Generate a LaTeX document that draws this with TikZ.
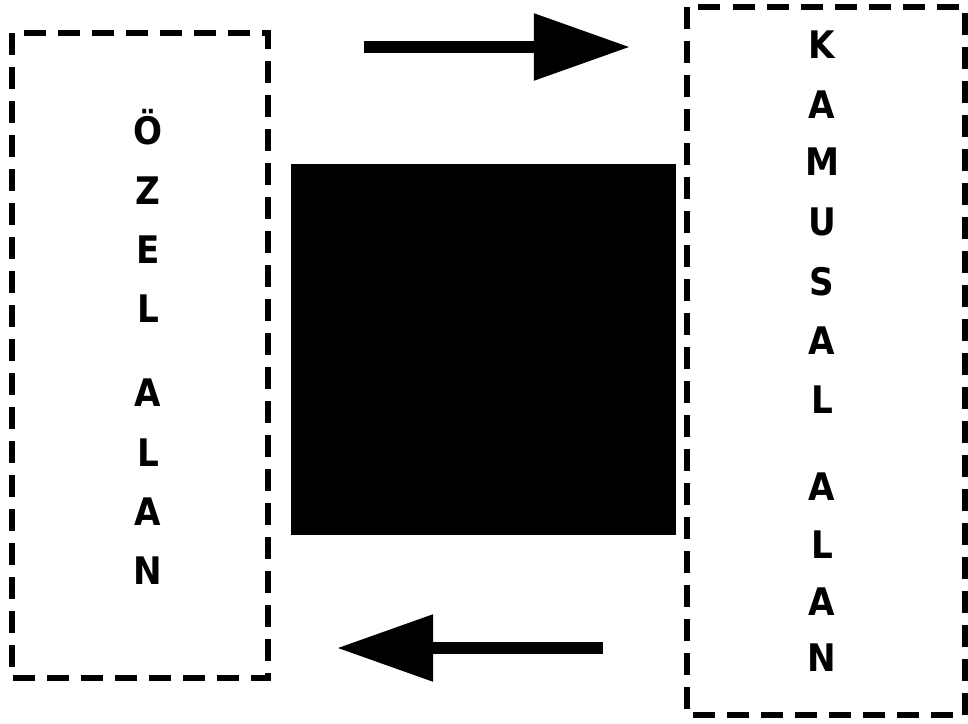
\documentclass[tikz,border=0pt]{standalone}
\usepackage{fontspec}
\setmainfont{DejaVu Sans Condensed}
\usetikzlibrary{arrows.meta}

\tikzset{
    areabox/.style={line width=4.2pt, dash pattern=on 0.55cm off 0.3cm},
    letter/.style={anchor=base, font=\fontsize{27}{30}\selectfont\bfseries, inner sep=0pt},
    flow/.style={line width=0.3cm, -{Triangle[length=2.4cm,width=1.6cm]}}
}

\begin{document}
\begin{tikzpicture}[x=0.025cm, y=-0.025cm]
    \useasboundingbox (0,0) rectangle (968,724);

    % private area
    \draw[areabox] (12,33) rectangle (268,678);
    \foreach \ch/\yy [count=\i] in {Ö/144, Z/204, E/263, L/322, A/406, L/466, A/525, N/584}
        \node[letter] (ozel\i) at (148,\yy) {\ch};

    % public area
    \draw[areabox] (687,7) rectangle (965,715);
    \foreach \ch/\yy [count=\i] in {K/58, A/118, M/175, U/235, S/295, A/354, L/413, A/500, L/558, A/615, N/671}
        \node[letter] (kamu\i) at (822,\yy) {\ch};

    % middle block
    \fill (291,164) rectangle (676,535);

    % arrows
    \coordinate (topstart) at (364,47);
    \coordinate (topend) at (630,47);
    \coordinate (botstart) at (603,648);
    \coordinate (botend) at (337,648);
    \draw[flow] (topstart) -- (topend);
    \draw[flow] (botstart) -- (botend);
\end{tikzpicture}
\end{document}
